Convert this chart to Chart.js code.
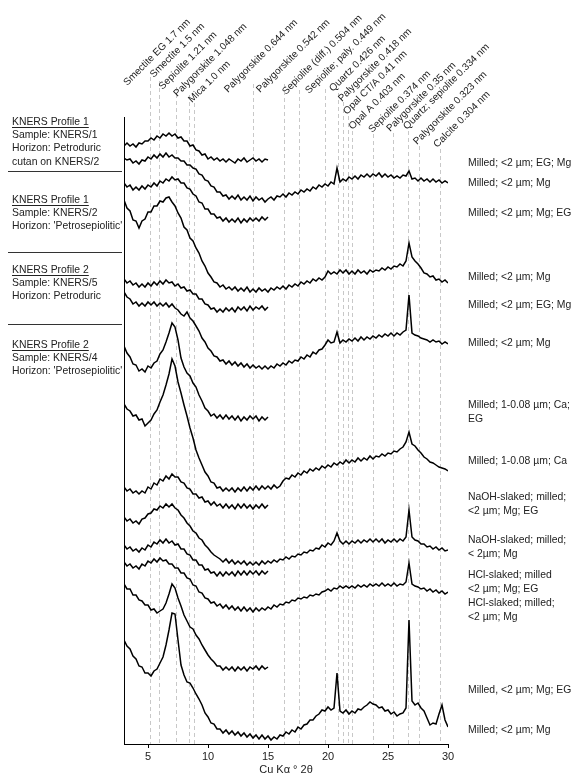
<!DOCTYPE html>
<html><head><meta charset="utf-8">
<script src="https://cdn.jsdelivr.net/npm/chart.js@4.4.1/dist/chart.umd.min.js"></script>
<style>html,body{margin:0;padding:0;background:#fff;}canvas{display:block;}</style>
</head><body>
<canvas id="c" width="575" height="778"></canvas>
<script>
// ---- sampling grid (° 2θ, Cu Kα), 0.25° step ----
const twoTheta = Array.from({length: 109}, (_, i) => 3 + i * 0.25);
const xTicks = [5, 10, 15, 20, 25, 30];

// ---- reference peak positions (° 2θ) and names ----
const peakTwoTheta = [5.19, 5.89, 7.30, 8.43, 8.84, 13.74, 16.34, 17.58, 19.76, 20.84, 21.24, 21.66, 22.04, 23.77, 25.43, 26.67, 27.59, 29.36];
const peakNames = ["Smectite EG 1.7 nm","Smectite 1.5 nm","Sepiolite 1.21 nm","Palygorskite 1.048 nm","Mica 1.0 nm","Palygorskite 0.644 nm","Palygorskite 0.542 nm","Sepiolite (diff.) 0.504 nm","Sepiolite; paly. 0.449 nm","Quartz 0.426 nm","Palygorskite 0.418 nm","Opal CT/A 0.41 nm","Opal A 0.403 nm","Sepiolite 0.374 nm","Palygorskite 0.35 nm","Quartz; sepiolite 0.334 nm","Palygorskite 0.323 nm","Calcite 0.304 nm"];

// ---- trace labels ----
const traceLabels = ["Milled; <2 µm; EG; Mg","Milled; <2 µm; Mg","Milled; <2 µm; Mg; EG","Milled; <2 µm; Mg","Milled; <2 µm; EG; Mg","Milled; <2 µm; Mg","Milled; 1-0.08 µm; Ca;\nEG","Milled; 1-0.08 µm; Ca","NaOH-slaked; milled;\n<2 µm; Mg; EG","NaOH-slaked; milled;\n< 2µm; Mg","HCl-slaked; milled\n<2 µm; Mg; EG","HCl-slaked; milled;\n<2 µm; Mg","Milled, <2 µm; Mg; EG","Milled; <2 µm; Mg"];
const sampleBlocks = [
  ["KNERS Profile 1","Sample: KNERS/1","Horizon: Petroduric","cutan on KNERS/2"],
  ["KNERS Profile 1","Sample: KNERS/2","Horizon: 'Petrosepiolitic'"],
  ["KNERS Profile 2","Sample: KNERS/5","Horizon: Petroduric"],
  ["KNERS Profile 2","Sample: KNERS/4","Horizon: 'Petrosepiolitic'"]
];

// ---- stacked intensities (arbitrary units, offset) ----
const kners1EG = [598,601,598,600,597,601,600,603,603,606,604,608,606,610,608,611,608,610,606,607,603,603,598,599,594,593,589,590,585,587,584,586,583,585,582,585,583,581,585,583,586,582,584,586,583,585,582,585,584];
const kners1Mg = [586,584,585,581,583,580,584,583,587,585,589,586,590,587,591,587,589,586,586,583,583,579,579,576,575,570,569,564,563,558,557,552,552,548,549,545,548,545,549,544,547,544,548,543,547,544,546,542,545,547,544,548,547,550,547,551,549,552,550,554,552,555,553,557,555,559,557,560,558,562,560,576,562,565,563,567,565,568,565,569,567,570,567,570,568,571,567,570,567,569,566,568,566,569,568,573,565,566,563,566,563,565,562,565,562,564,561,563,561];
const kners2EG = [561,557,559,554,557,554,558,555,559,557,561,558,563,561,565,563,567,564,565,561,561,556,555,550,548,542,541,535,535,530,530,526,527,523,526,522,525,522,526,521,525,522,526,523,526,523,527,524,527];
const kners2Mg = [544,536,533,524,523,516,523,525,532,532,538,538,543,542,546,547,542,538,531,526,517,514,506,503,496,491,483,478,471,467,462,461,457,459,455,457,454,457,453,456,453,457,452,455,452,456,453,455,452,456,454,457,455,458,455,459,457,460,458,462,460,463,461,465,463,466,464,467,473,470,472,470,474,471,474,470,473,470,474,471,473,470,474,472,474,473,476,474,477,475,478,477,480,478,483,501,487,483,480,476,471,470,467,468,464,465,462,464,461];
const kners5EG = [465,461,463,459,461,457,460,457,461,458,462,459,463,460,464,461,462,458,460,456,457,453,454,450,450,445,445,440,439,435,436,432,435,432,436,433,436,432,437,434,437,433,438,434,437,435,438,434,437];
const kners5Mg = [452,447,445,440,442,438,441,438,442,439,442,438,441,438,441,437,440,436,434,430,428,432,426,423,418,413,406,402,396,393,388,387,383,384,380,383,379,382,378,381,377,380,376,379,376,378,375,378,375,378,376,380,378,381,379,383,381,384,383,387,385,389,387,392,390,394,395,399,404,401,402,412,401,404,402,405,403,406,403,407,404,407,405,408,406,409,407,410,408,411,408,411,409,412,414,449,411,409,408,406,405,404,402,404,402,403,400,402,400];
const kners4CaEG = [398,391,387,380,379,373,375,372,378,376,381,383,390,394,402,411,421,417,404,386,377,371,368,361,357,349,343,336,333,328,330,326,329,325,329,325,328,324,328,323,327,324,328,325,328,323,327,324,327];
const kners4Ca = [340,335,333,328,329,324,325,318,321,324,330,334,342,349,359,370,385,378,362,351,339,328,316,306,294,286,279,272,268,262,261,256,257,253,256,253,256,252,256,253,257,253,257,254,258,254,258,255,258,255,259,256,258,263,266,265,269,267,271,269,273,271,275,273,276,274,278,276,279,277,281,279,282,280,284,281,284,282,286,283,286,284,288,285,288,287,290,288,291,290,293,292,295,297,302,312,300,298,294,291,287,285,282,281,279,277,276,275,273];
const kners4NaOHEG = [257,253,255,251,253,250,253,251,257,255,261,259,265,263,268,265,270,267,267,262,261,256,255,250,250,246,247,242,243,239,242,238,240,236,240,236,239,235,240,236,240,236,239,235,239,236,240,236,239];
const kners4NaOHMg = [227,223,225,221,223,220,225,226,230,231,235,234,238,236,240,237,240,236,234,229,226,221,218,213,211,206,204,199,196,192,189,187,185,182,185,181,184,180,183,180,183,179,182,179,182,179,183,180,183,181,184,182,185,184,187,185,188,187,190,189,192,191,194,193,196,195,199,197,201,199,203,211,203,200,203,200,203,201,204,201,204,202,205,202,205,202,205,201,204,202,205,202,205,203,207,234,207,204,203,200,200,197,198,195,197,194,196,193,194];
const kners4HClEG = [199,195,197,193,195,192,196,194,199,197,202,200,204,201,205,201,203,199,200,195,195,190,189,184,184,179,179,174,175,171,172,168,172,168,172,169,172,168,173,169,173,169,173,170,173,169,173,170,173];
const kners4HClMg = [182,178,180,176,178,175,180,178,183,181,185,182,186,183,184,180,180,176,176,171,171,166,165,159,158,152,151,146,145,141,142,138,140,136,139,135,138,134,137,133,137,133,136,132,136,133,136,134,137,135,139,137,140,139,142,141,144,143,146,145,147,146,149,148,150,149,152,153,155,153,156,155,158,156,158,156,158,156,159,157,159,157,160,158,160,158,161,158,160,158,161,158,160,159,162,181,160,158,157,155,156,153,155,152,154,151,153,150,152];
const kners4EG = [160,155,155,149,149,144,143,139,139,134,135,131,133,135,141,150,160,156,146,138,129,123,117,115,109,105,99,94,89,85,82,78,78,74,77,74,77,73,77,74,77,73,77,75,78,74,78,75,77];
const kners4Mg = [104,98,95,88,85,78,77,71,71,68,73,75,81,87,99,114,131,130,104,79,69,62,61,56,50,45,39,31,27,21,20,15,15,11,14,10,13,9,12,8,11,7,10,6,9,5,9,5,8,4,7,5,9,8,12,10,14,12,17,15,19,20,24,24,28,30,34,33,37,34,36,71,33,31,34,30,33,31,35,34,37,39,42,40,39,36,37,33,34,30,32,28,30,31,36,124,43,39,41,36,33,26,19,21,20,30,39,24,17];

const seriesList = [kners1EG,kners1Mg,kners2EG,kners2Mg,kners5EG,kners5Mg,kners4CaEG,kners4Ca,kners4NaOHEG,kners4NaOHMg,kners4HClEG,kners4HClMg,kners4EG,kners4Mg];

// ---- layout / style (not data) ----
const FONT = '"Liberation Sans", Arial, Helvetica, sans-serif';
const peakLabelDx = [-23,-5,-13,-12,-2,-25,-24,-13,-16,-5,-1,-1,0,-1,-3,-1,-2,-3];
const peakLabelY  = [86,78,90,97,103,93,93,95,94,92,102,115,130,133,132,130,145,148];
const peakLineTop = [77,81,87,95,103,84,84,90,89,93,102,116,131,134,133,131,146,149];
const traceLabelY = [163,183,213,277,305,343,405,461,497,540,575,603,690,730];
const blockY = [122,200,270,345];
const separatorY = [171,252,324];

const decor = {
  id: 'decor',
  beforeDatasetsDraw(chart) {
    const ctx = chart.ctx, xs = chart.scales.x, bottom = chart.chartArea.bottom;
    ctx.save();
    ctx.strokeStyle = '#c8c8c8'; ctx.lineWidth = 1; ctx.setLineDash([4, 3]);
    peakTwoTheta.forEach((t, i) => {
      const px = Math.round(xs.getPixelForValue(t)) + 0.5;
      ctx.beginPath(); ctx.moveTo(px, peakLineTop[i]); ctx.lineTo(px, bottom); ctx.stroke();
    });
    ctx.restore();
  },
  afterDraw(chart) {
    const ctx = chart.ctx, xs = chart.scales.x, ca = chart.chartArea;
    ctx.save();
    ctx.fillStyle = '#222';
    ctx.font = '10px ' + FONT;
    ctx.textAlign = 'left';
    ctx.textBaseline = 'alphabetic';
    peakNames.forEach((n, i) => {
      const px = xs.getPixelForValue(peakTwoTheta[i]);
      ctx.save();
      ctx.translate(px + peakLabelDx[i], peakLabelY[i]);
      ctx.rotate(-Math.PI / 4);
      ctx.fillText(n, 0, 0);
      ctx.restore();
    });
    ctx.font = '10.4px ' + FONT;
    ctx.textBaseline = 'middle';
    traceLabels.forEach((t, i) => {
      t.split('\n').forEach((ln, j) => ctx.fillText(ln, 468, traceLabelY[i] + j * 14));
    });
    sampleBlocks.forEach((blk, b) => {
      blk.forEach((ln, j) => {
        const y = blockY[b] + j * 13.3;
        ctx.fillText(ln, 12, y);
        if (j === 0) {
          const w = ctx.measureText(ln).width;
          ctx.fillRect(12, Math.round(y + 5), w, 1);
        }
      });
    });
    ctx.fillStyle = '#333';
    separatorY.forEach(y => ctx.fillRect(8, y, 114, 1));
    ctx.fillStyle = '#222';
    ctx.font = '11px ' + FONT;
    ctx.textAlign = 'center';
    ctx.fillText('Cu Kα ° 2θ', (ca.left + ca.right) / 2, 770);
    ctx.restore();
  }
};

Chart.defaults.font.family = FONT;
new Chart(document.getElementById('c'), {
  type: 'line',
  data: {
    datasets: seriesList.map(s => ({
      data: s.map((v, i) => ({x: twoTheta[i], y: v})),
      borderColor: '#000', borderWidth: 1.5, pointRadius: 0, tension: 0, fill: false
    }))
  },
  options: {
    responsive: false, animation: false, devicePixelRatio: 1, events: [],
    layout: {padding: {left: 124, right: 127, top: 117, bottom: 0}},
    plugins: {legend: {display: false}, tooltip: {enabled: false}},
    scales: {
      x: {
        type: 'linear', min: 3, max: 30,
        afterBuildTicks: s => { s.ticks = xTicks.map(v => ({value: v})); },
        afterFit: s => { s.height = 34; },
        grid: {drawOnChartArea: false, drawTicks: true, tickLength: 4, color: '#000'},
        border: {display: true, color: '#000', width: 1},
        ticks: {padding: 2, color: '#222', font: {size: 11}, maxRotation: 0, autoSkip: false}
      },
      y: {
        type: 'linear', min: 0, max: 627,
        afterFit: s => { s.width = 0; },
        grid: {display: false},
        border: {display: true, color: '#000', width: 1},
        ticks: {display: false}
      }
    }
  },
  plugins: [decor]
});
</script>
</body></html>
